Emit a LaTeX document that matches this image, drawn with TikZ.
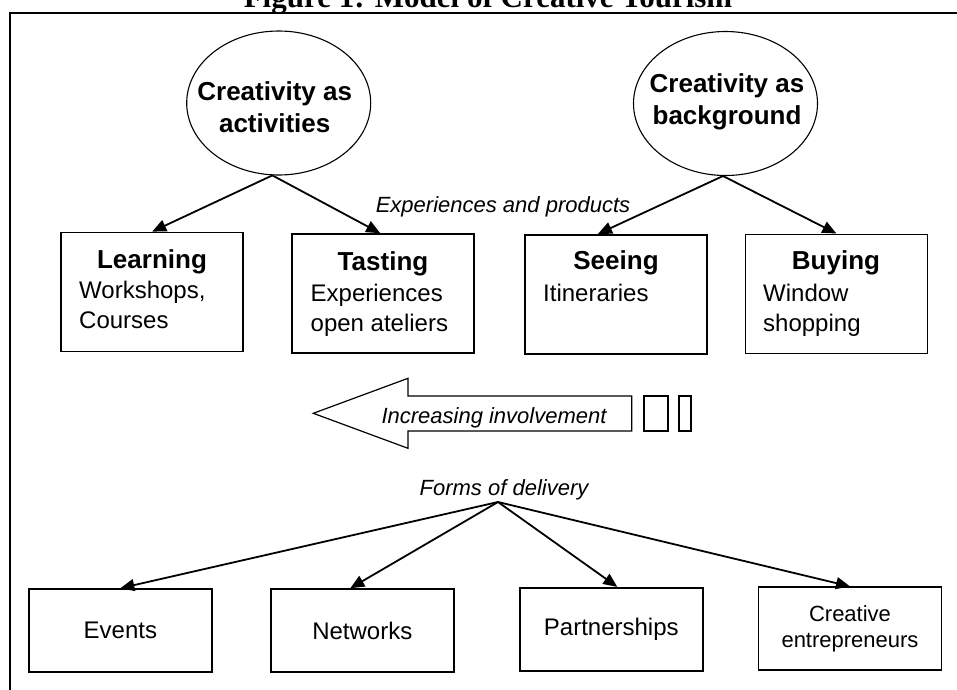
\documentclass[tikz,border=0pt]{standalone}
\usepackage{fontspec}
\setmainfont{Liberation Sans}
\newfontfamily\titlefont{Liberation Serif}
\usetikzlibrary{shapes.geometric,arrows.meta,calc}

\begin{document}
\begin{tikzpicture}[x=1pt,y=-1pt,
	oval/.style={draw, ellipse, line width=1.1pt, minimum width=184pt, minimum height=144pt, inner sep=0pt},
	ovaltext/.style={font=\bfseries\fontsize{26}{32}\selectfont, align=center, inner sep=0pt, anchor=north},
	kind/.style={draw, line width=1.6pt, minimum width=182pt, minimum height=119pt, inner sep=0pt},
	kindhead/.style={font=\bfseries\fontsize{26}{31}\selectfont, inner sep=0pt, anchor=base},
	kindtext/.style={font=\fontsize{24}{30}\selectfont, align=left, inner sep=0pt, anchor=north west},
	form/.style={draw, line width=1.6pt, minimum width=183pt, minimum height=83pt, inner sep=0pt, font=\fontsize{24}{29}\selectfont, align=center},
	note/.style={font=\itshape\fontsize{22}{26}\selectfont, inner sep=0pt, anchor=base},
	pile/.style={line width=1.8pt, -{Triangle[length=14pt,width=12pt]}}]

	\useasboundingbox (0,0) rectangle (957,689);

	% Frame and caption
	\node[anchor=base, font=\titlefont\bfseries\fontsize{31}{36}\selectfont] (title) at (488,7) {Figure 1: Model of Creative Tourism};
	\draw[line width=2pt] (980,13) -- (9.5,13) -- (9.5,700);

	% Two kinds of creativity
	\node[oval] (act) at (278.7,103) {};
	\node[ovaltext] (acttext) at (274.7,81) {Creativity as\\activities};
	\node[oval] (bg) at (725.5,103.5) {};
	\node[ovaltext] (bgtext) at (727,73.7) {Creativity as\\background};

	% Experiences and products
	\node[kind] (learn) at (152.2,291.9) {};
	\node[kind] (taste) at (383.2,293.5) {};
	\node[kind] (see) at (616,294.2) {};
	\node[kind] (buy) at (836.4,293.8) {};

	\node[kindhead] (learnhead) at (152,268.3) {Learning};
	\node[kindhead] (tastehead) at (383,270) {Tasting};
	\node[kindhead] (seehead) at (616,269.3) {Seeing};
	\node[kindhead] (buyhead) at (836,269) {Buying};

	\node[kindtext] (learntext) at (79,280.8) {Workshops,\\Courses};
	\node[kindtext] (tastetext) at (310.5,284.2) {Experiences\\open ateliers};
	\node[kindtext] (seetext) at (543,284.2) {Itineraries};
	\node[kindtext] (buytext) at (763,284.2) {Window\\shopping};

	\node[note] (exp) at (503,212.3) {Experiences and products};

	\draw[pile] (act.265) -- (learn.north);
	\draw[pile] (act.265) -- ($(taste.north)+(-3,0)$);
	\draw[pile] (bg.268) -- ($(see.north)+(-18,0)$);
	\draw[pile] (bg.268) -- (buy.north);

	% Increasing involvement
	\draw[line width=1.2pt] (631.7,396) -- (408,396) -- (408,378.3) -- (313.3,413.3) -- (408,448.3) -- (408,431) -- (631.7,431) -- cycle;
	\node[note] (grow) at (494,423.3) {Increasing involvement};
	\draw[line width=1.8pt] (644.3,396) rectangle (668.3,431);
	\draw[line width=1.8pt] (679,396) rectangle (691,431);

	% Forms of delivery
	\node[note] (forms) at (504,495) {Forms of delivery};
	\coordinate (fan) at (498,502);

	\node[form] (events) at (120.4,630.5) {Events};
	\node[form] (networks) at (362.3,630.5) {Networks};
	\node[form] (partners) at (611.3,629.2) {Partnerships};
	\node[form, font=\fontsize{22}{26}\selectfont] (creative) at (850,628.7) {Creative\\entrepreneurs};

	\draw[pile] (fan) -- (events.north);
	\draw[pile] (fan) -- ($(networks.north)+(-12,0)$);
	\draw[pile] (fan) -- ($(partners.north)+(6,0)$);
	\draw[pile] (fan) -- (creative.north);

\end{tikzpicture}
\end{document}
